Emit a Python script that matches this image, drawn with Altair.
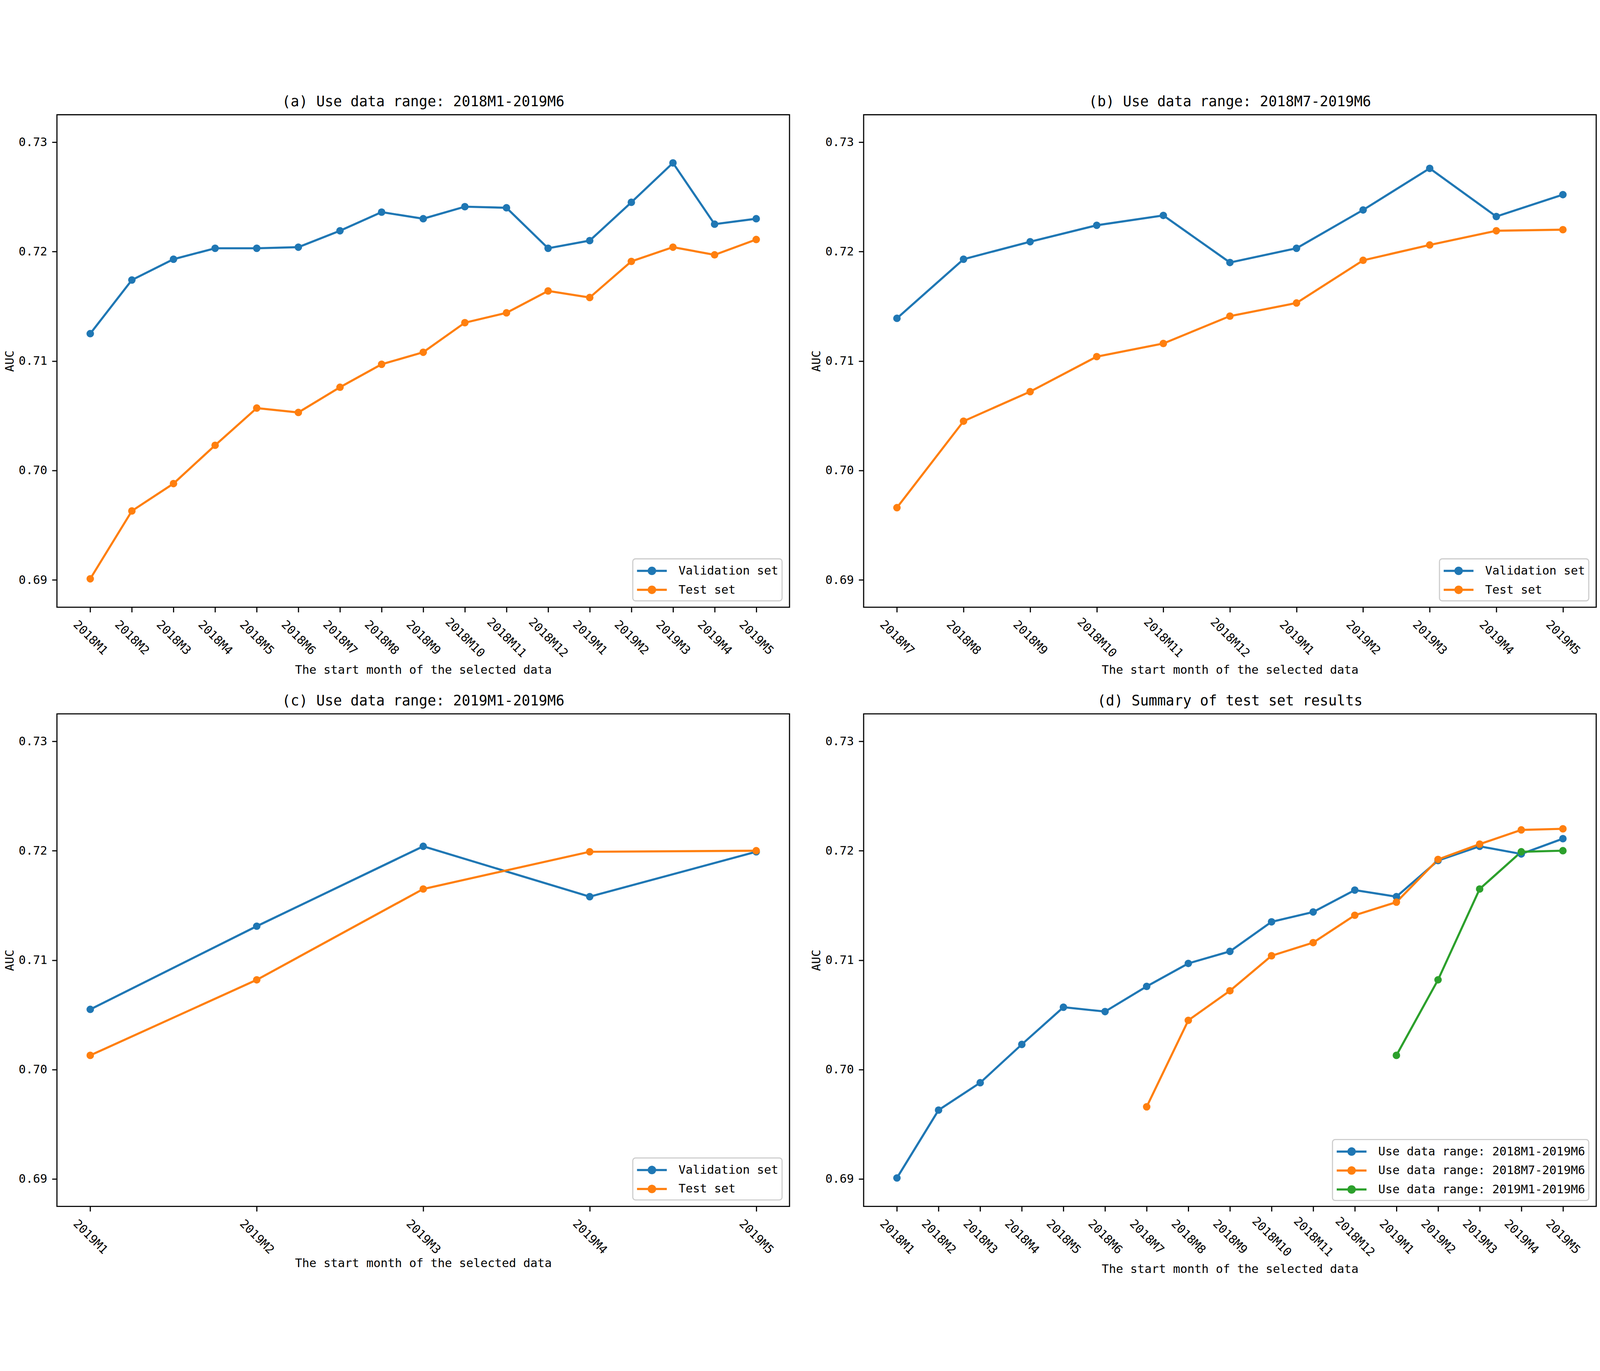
import math
import altair as alt
import pandas as pd

FONT = "DejaVu Sans Mono"

months_all = ["2018M1", "2018M2", "2018M3", "2018M4", "2018M5", "2018M6",
              "2018M7", "2018M8", "2018M9", "2018M10", "2018M11", "2018M12",
              "2019M1", "2019M2", "2019M3", "2019M4", "2019M5"]
months_b = ["2018M7", "2018M8", "2018M9", "2018M10", "2018M11", "2018M12",
            "2019M1", "2019M2", "2019M3", "2019M4", "2019M5"]
months_c = ["2019M1", "2019M2", "2019M3", "2019M4", "2019M5"]

val_a = [0.7125, 0.7174, 0.7193, 0.7203, 0.7203, 0.7204, 0.7219, 0.7236, 0.7230,
         0.7241, 0.7240, 0.7203, 0.7210, 0.7245, 0.7281, 0.7225, 0.7230]
test_a = [0.6901, 0.6963, 0.6988, 0.7023, 0.7057, 0.7053, 0.7076, 0.7097, 0.7108,
          0.7135, 0.7144, 0.7164, 0.7158, 0.7191, 0.7204, 0.7197, 0.7211]
val_b = [0.7139, 0.7193, 0.7209, 0.7224, 0.7233, 0.7190, 0.7203, 0.7238, 0.7276,
         0.7232, 0.7252]
test_b = [0.6966, 0.7045, 0.7072, 0.7104, 0.7116, 0.7141, 0.7153, 0.7192, 0.7206,
          0.7219, 0.7220]
val_c = [0.7055, 0.7131, 0.7204, 0.7158, 0.7199]
test_c = [0.7013, 0.7082, 0.7165, 0.7199, 0.7200]

titles = ["(a) Use data range: 2018M1-2019M6",
          "(b) Use data range: 2018M7-2019M6",
          "(c) Use data range: 2019M1-2019M6",
          "(d) Summary of test set results"]
set_names = ["Validation set", "Test set"]
range_names = ["Use data range: 2018M1-2019M6",
               "Use data range: 2018M7-2019M6",
               "Use data range: 2019M1-2019M6"]
y_ticks = [0.69, 0.70, 0.71, 0.72, 0.73]

BLUE, ORANGE, GREEN = "#1f77b4", "#ff7f0e", "#2ca02c"

W, H = 2164, 1455
CHAR_W = 0.602 * 35  # monospace advance at 35px


def ring(r, n):
    pts = [(r * math.cos(2 * math.pi * k / n), r * math.sin(2 * math.pi * k / n))
           for k in range(n)]
    return "M" + "L".join(f"{x:.3f},{y:.3f}" for x, y in pts) + "Z"


# legend handle: a line with a round marker (drawn as stroked rings)
LEGEND_PATH = "M-2,0L2,0" + ring(0.142, 12) + ring(0.426, 28)


def make_df(series_list):
    recs = []
    for name, months, values in series_list:
        for i, (m, v) in enumerate(zip(months, values)):
            recs.append({"series": name, "month": m, "idx": i, "auc": v})
    return pd.DataFrame(recs)


def panel(df, months, title, domain, colors, xtitle_pad):
    pad = 0.05 * (len(months) - 1)
    xenc = alt.X("month:N", sort=months,
                 scale=alt.Scale(type="point", domain=months, padding=pad),
                 axis=alt.Axis(title="The start month of the selected data",
                               labelAngle=45, labelAlign="center",
                               labelBaseline="middle", labelPadding=75,
                               titlePadding=xtitle_pad))
    yenc = alt.Y("auc:Q",
                 scale=alt.Scale(domain=[0.6875, 0.7325], nice=False, zero=False),
                 axis=alt.Axis(title="AUC", values=y_ticks, format=".2f",
                               labelPadding=14.6, titlePadding=8))
    longest = max(len(s) for s in domain)
    leg_w = 136 + longest * CHAR_W + 10
    leg_h = 20 + len(domain) * 46.5 + (len(domain) - 1) * 8
    legend = alt.Legend(title=None, orient="none",
                        legendX=W - 22 - leg_w, legendY=H - 22 - leg_h,
                        symbolType=LEGEND_PATH, symbolSize=1936,
                        symbolStrokeWidth=6.25, symbolOffset=21, labelOffset=53,
                        labelFont=FONT, labelFontSize=35, labelColor="black",
                        labelLimit=0, rowPadding=8, padding=10,
                        fillColor="white", strokeColor="#cccccc",
                        cornerRadius=8)
    line = alt.Chart(df).mark_line(strokeWidth=6.25).encode(
        x=xenc, y=yenc,
        color=alt.Color("series:N", scale=alt.Scale(domain=domain, range=colors),
                        legend=legend),
        order="idx:Q")
    pts = alt.Chart(df).mark_point(filled=True, size=491, opacity=1,
                                   strokeWidth=0).encode(
        x=xenc, y=yenc,
        fill=alt.Fill("series:N", scale=alt.Scale(domain=domain, range=colors),
                      legend=None))
    return alt.layer(line, pts).properties(
        width=W, height=H,
        title=alt.TitleParams(title, font=FONT, fontSize=42, fontWeight="normal",
                              color="black", offset=16, anchor="middle"))


df_a = make_df([(set_names[0], months_all, val_a), (set_names[1], months_all, test_a)])
df_b = make_df([(set_names[0], months_b, val_b), (set_names[1], months_b, test_b)])
df_c = make_df([(set_names[0], months_c, val_c), (set_names[1], months_c, test_c)])
df_d = make_df([(range_names[0], months_all, test_a),
                (range_names[1], months_b, test_b),
                (range_names[2], months_c, test_c)])

pa = panel(df_a, months_all, titles[0], set_names, [BLUE, ORANGE], 14)
pb = panel(df_b, months_b, titles[1], set_names, [BLUE, ORANGE], 14)
pc = panel(df_c, months_c, titles[2], set_names, [BLUE, ORANGE], 4)
pd_ = panel(df_d, months_all, titles[3], range_names, [BLUE, ORANGE, GREEN], 14)

chart = alt.concat(pa, pb, pc, pd_, columns=2,
                   spacing={"row": 48, "column": 58}).resolve_scale(
    x="independent", y="independent", color="independent", fill="independent"
).resolve_legend(color="independent", fill="independent").properties(
    padding=0
).configure_axis(
    grid=False, domain=False, tickColor="black", tickWidth=3.3, tickSize=14.6,
    labelFont=FONT, labelFontSize=35, labelColor="black",
    titleFont=FONT, titleFontSize=35, titleFontWeight="normal", titleColor="black"
).configure_view(
    stroke="black", strokeWidth=3.3
).configure_legend(
    strokeWidth=3.3
)

chart.save("out.html", embed_options={"renderer": "svg", "actions": False})
